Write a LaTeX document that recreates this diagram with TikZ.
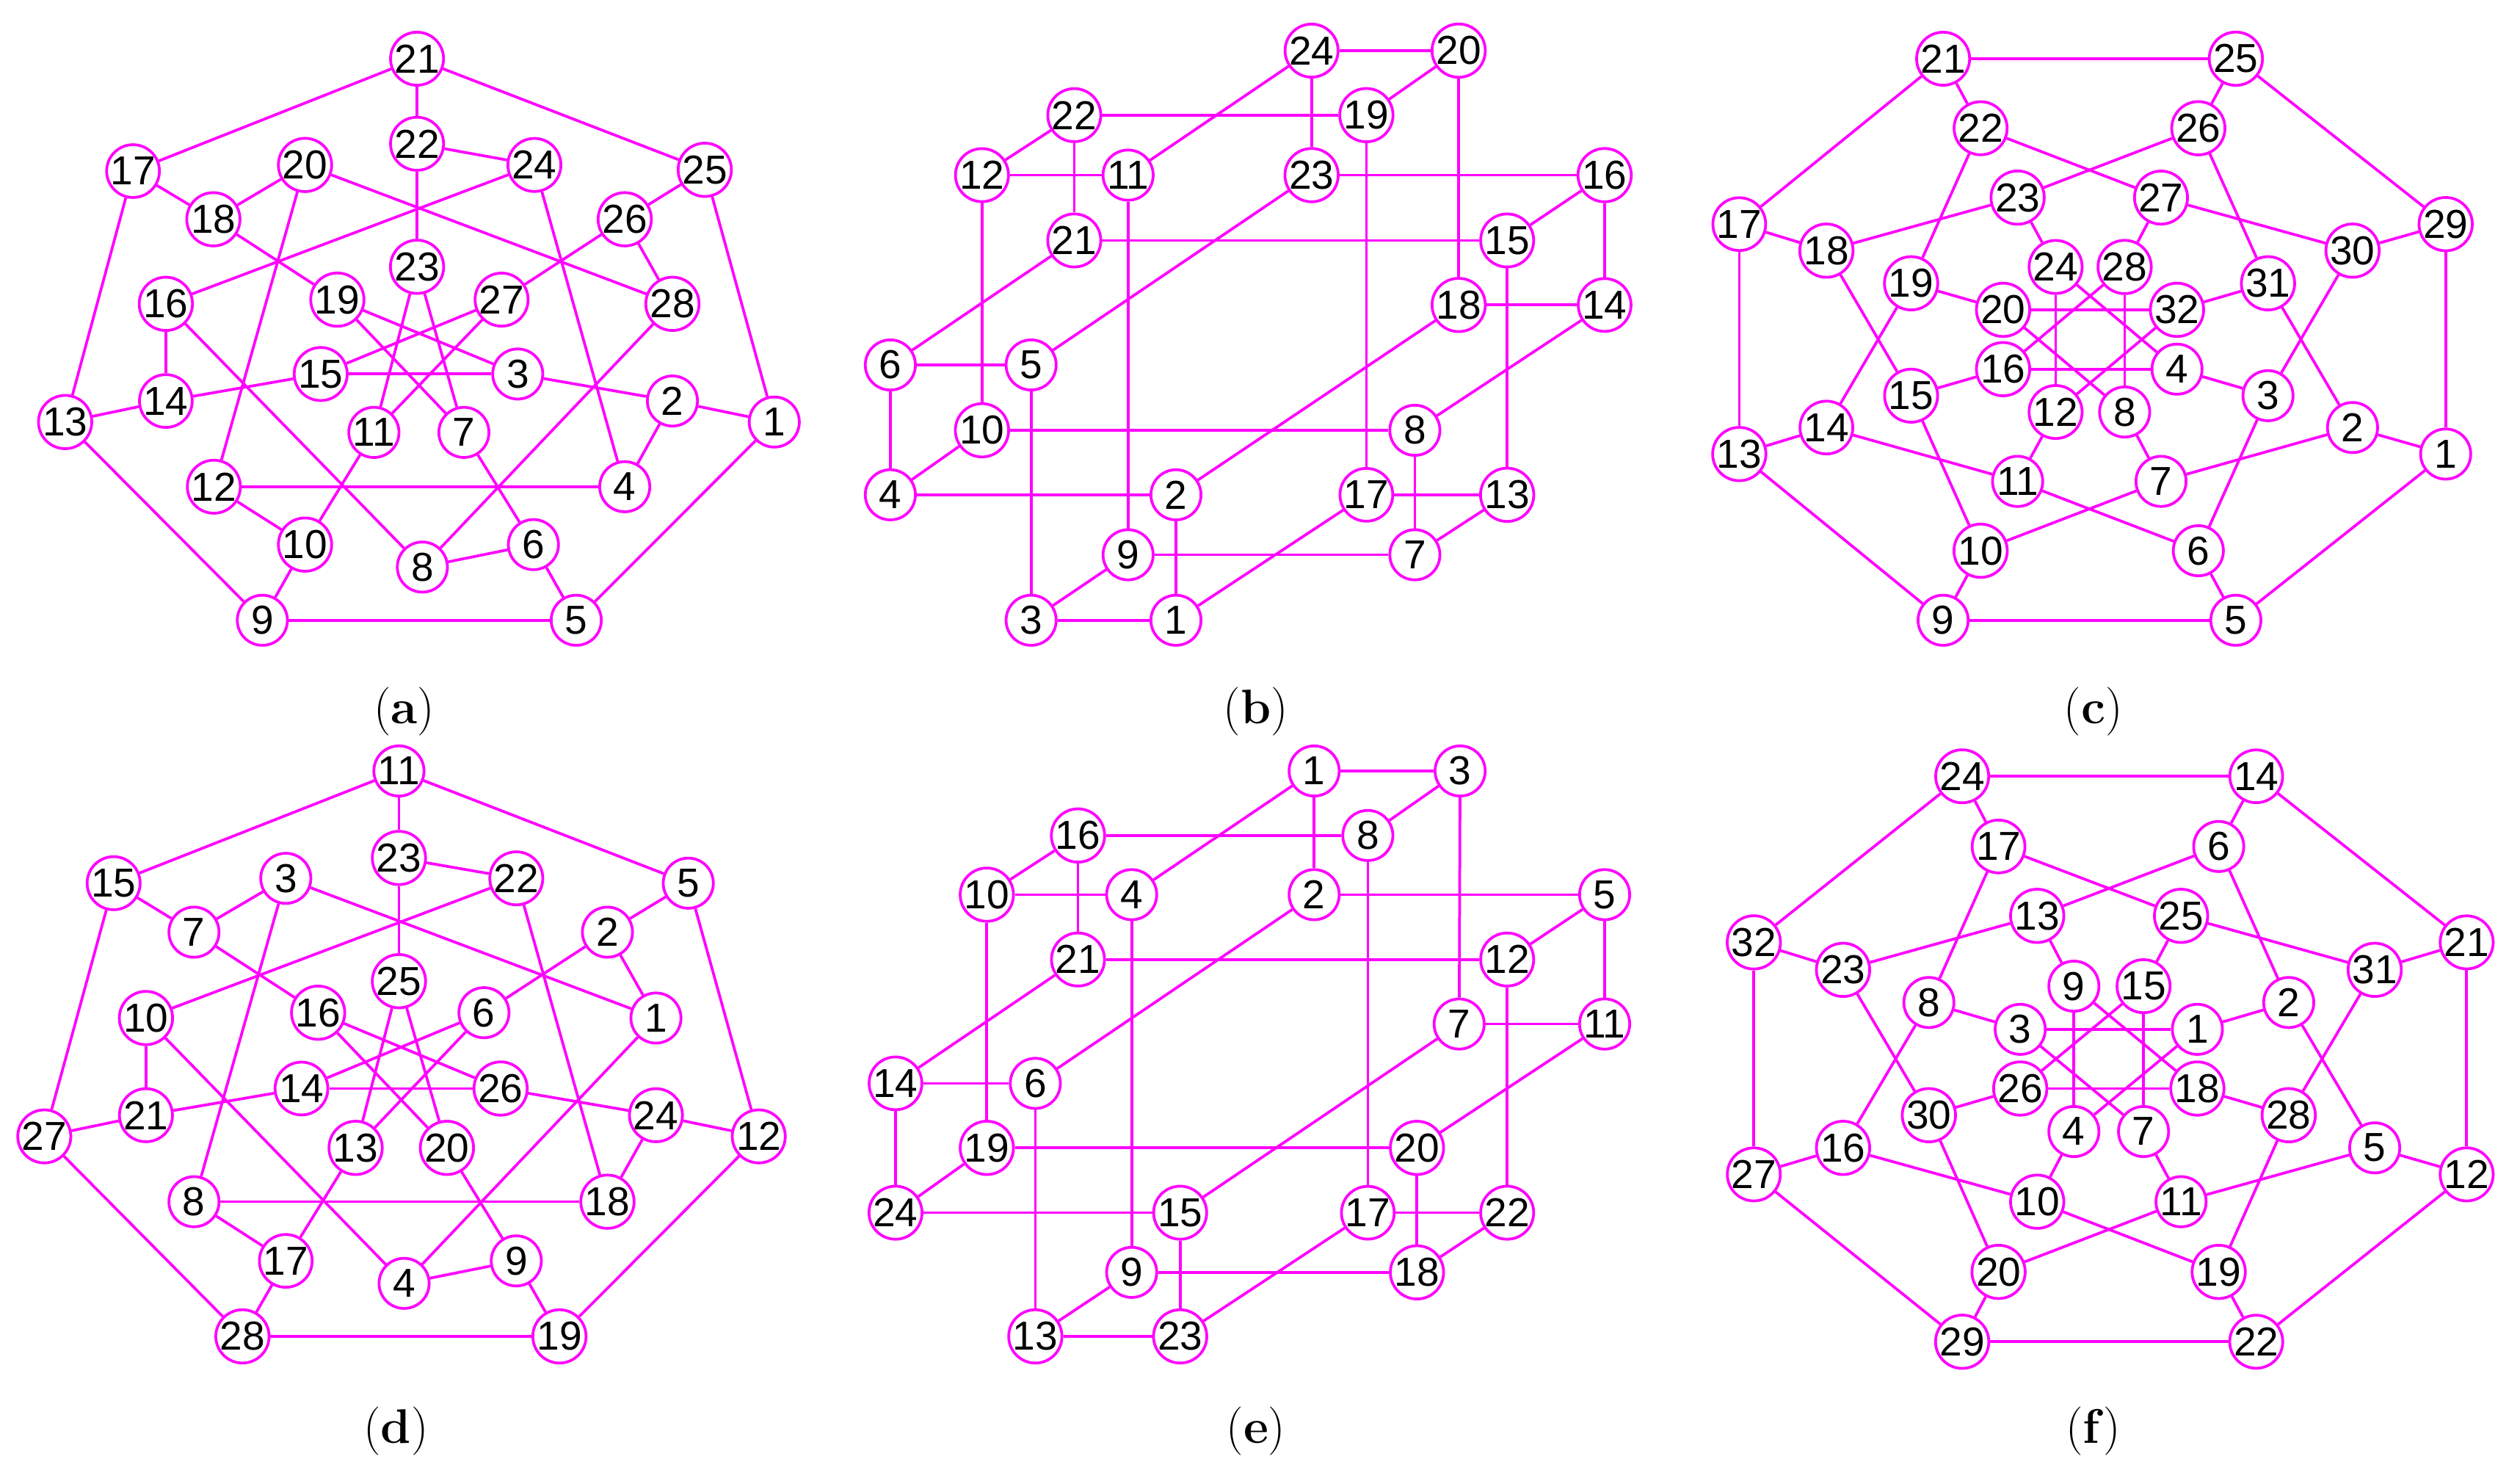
\documentclass[tikz,border=0pt]{standalone}
\usepackage{fontspec}
\setmainfont{Latin Modern Roman}
\newfontfamily\numfont{Liberation Sans}
\definecolor{mag}{RGB}{255,0,255}
\begin{document}
\begin{tikzpicture}[x=0.5pt,y=-0.5pt,
  v/.style={circle,draw=mag,line width=0.85pt,minimum size=15.5pt,inner sep=0pt,fill=white,font=\numfont\fontsize{12.5}{12.5}\selectfont},
  e/.style={draw=mag,line width=0.85pt},
  captxt/.style={font=\fontsize{15}{15}\selectfont}]
\useasboundingbox (0,0) rectangle (1559,902);
% ---------- (a)
\foreach \n/\x/\y in {21/258/36.3,22/258/88.9,24/330.6/102,17/82.3/105.8,20/188.7/102,25/436/105,18/132/135.6,26/386.5/135.6,23/258/165,16/102.6/187.9,19/208.7/185.3,27/310.3/185.3,28/416/187.9,15/198.4/231.3,3/320.3/231.3,14/102.6/248,2/416/248,13/40.3/261,1/479/261,11/231.3/267.4,7/287/267.4,12/132.3/301,4/386.5/301,10/188.7/336.8,6/330/336.8,8/261.3/350.7,9/162.3/383.6,5/356.5/383.6}
  \node[v] (a\n) at (\x,\y) {\n};
\foreach \u/\w in {21/22,21/17,21/25,22/24,22/23,17/18,17/13,20/18,20/12,20/28,24/16,24/4,25/26,25/1,26/27,26/28,18/19,23/11,23/7,16/14,16/8,19/3,19/7,27/15,27/11,28/8,15/14,15/3,3/2,14/13,2/1,2/4,13/9,1/5,11/10,7/6,12/4,12/10,10/9,6/8,6/5,9/5}
  \draw[e] (a\u) -- (a\w);
\node[captxt] (capa) at (250,440) {(\textbf{a})};
% ---------- (b)
\foreach \n/\x/\y in {24/811.4/31.3,20/902.4/31.3,22/664.6/71.2,19/845.3/71.2,12/607.5/108.3,11/697.9/108.3,23/811.4/108.3,16/992.7/108.3,21/664.6/148.7,15/932.4/148.7,18/902.4/188.6,14/992.7/188.6,6/550.8/225.7,5/637.9/225.7,10/607.5/266.1,8/875.3/266.1,4/550.8/306,2/727.5/306,17/845.3/306,13/932.4/306,9/697.9/343.1,7/875.3/343.1,3/637.9/383.6,1/727.5/383.6}
  \node[v] (b\n) at (\x,\y) {\n};
\foreach \u/\w in {24/20,24/11,24/23,20/19,20/18,22/19,22/12,22/21,19/17,12/11,12/10,11/9,23/16,23/5,16/15,16/14,21/15,21/6,15/13,18/14,18/2,14/8,6/5,6/4,5/3,10/8,10/4,8/7,4/2,2/1,17/13,17/1,13/7,9/7,9/3,3/1}
  \draw[e] (b\u) -- (b\w);
\node[captxt] (capb) at (777,440) {(\textbf{b})};
% ---------- (c)
\foreach \n/\x/\y in {21/1202.1/36.3,25/1383.2/36.3,22/1225.3/79.3,26/1360/79.3,23/1248.2/122.2,27/1336.9/122.2,17/1076/138.6,29/1513/138.6,18/1129.9/155,30/1455.4/155,24/1271.7/165.1,28/1314.4/165.1,19/1182.3/175.2,31/1403.1/175.2,20/1239.2/191.6,32/1346.8/191.6,16/1239.2/228.3,4/1346.8/228.3,15/1182.3/244.7,3/1403.1/244.7,12/1271.7/254.8,8/1314.4/254.8,14/1129.9/264.4,2/1455.4/264.4,13/1076/280.8,1/1513/280.8,11/1248.2/297.7,7/1336.9/297.7,10/1225.3/340.6,6/1360/340.6,9/1202.1/383.6,5/1383.2/383.6}
  \node[v] (c\n) at (\x,\y) {\n};
\foreach \u/\w in {21/25,21/22,21/17,25/26,25/29,22/27,22/19,26/23,26/31,23/18,23/24,27/30,27/28,17/18,17/13,29/30,29/1,30/3,19/20,19/14,31/32,31/2,18/15,24/12,24/4,28/8,28/16,20/32,20/8,32/12,16/4,16/15,4/3,15/10,3/6,12/11,8/7,14/13,14/11,2/1,2/7,13/9,1/5,11/6,7/10,10/9,6/5,9/5}
  \draw[e] (c\u) -- (c\w);
\node[captxt] (capc) at (1295,440) {(\textbf{c})};
% ---------- (d)
\foreach \n/\x/\y in {11/246.8/476.8,23/246.8/530.6,15/70.3/546.2,3/176.8/543.2,22/319.4/543.2,5/425.8/546.2,7/120/576.5,2/375.8/576.5,25/246.8/606.8,10/90.3/629.6,16/196.8/626.3,6/299.4/626.3,1/405.8/629.6,14/186.5/673.2,26/309.7/673.2,21/90.3/689.7,24/405.8/689.7,27/27.4/702.8,12/469.4/702.8,13/220/709.9,20/276.5/709.9,8/120/743.2,18/375.8/743.2,17/176.8/779.8,9/319.4/779.8,4/250/793.7,28/150/826.5,19/346.1/826.5}
  \node[v] (d\n) at (\x,\y) {\n};
\foreach \u/\w in {11/23,11/15,11/5,23/22,23/25,15/7,15/27,3/7,3/8,3/1,22/10,22/18,5/2,5/12,7/16,2/6,2/1,25/13,25/20,10/21,10/4,16/26,16/20,6/14,6/13,1/4,14/21,14/26,26/24,21/27,24/12,24/18,27/28,12/19,13/17,20/9,8/18,8/17,17/28,9/4,9/19,28/19}
  \draw[e] (d\u) -- (d\w);
\node[captxt] (capd) at (245,885) {(\textbf{d})};
% ---------- (e)
\foreach \n/\x/\y in {1/813/476.8,3/903.3/476.8,16/666.9/516.7,8/846.2/516.7,10/610.5/553.3,4/700.1/553.3,2/813/553.3,5/992.7/553.3,21/666.9/593.4,12/932.4/593.4,7/902.7/633.3,11/992.7/633.3,14/554/670,6/640.5/670,19/610.5/709.9,20/876.6/709.9,24/554/750,15/730.1/750,17/846.2/750,22/932.4/750,9/700.1/786.9,18/876.6/786.9,13/640.5/826.5,23/730.1/826.5}
  \node[v] (e\n) at (\x,\y) {\n};
\foreach \u/\w in {1/3,1/4,1/2,3/8,3/7,16/8,16/10,16/21,8/17,10/4,10/19,4/9,2/5,2/6,5/12,5/11,21/12,21/14,12/22,7/11,7/15,11/20,14/6,14/24,6/13,19/20,19/24,20/18,24/15,15/23,17/22,17/23,22/18,9/18,9/13,13/23}
  \draw[e] (e\u) -- (e\w);
\node[captxt] (cape) at (777,885) {(\textbf{e})};
% ---------- (f)
\foreach \n/\x/\y in {24/1213.9/480.1,14/1395.8/480.1,17/1236.4/523.5,6/1372.6/523.5,13/1260.3/566.4,25/1349.3/566.4,32/1085/582.8,21/1526/582.8,23/1140.2/599.8,31/1469.1/599.8,9/1283/609.9,15/1326.1/609.9,8/1193.3/620,2/1415.9/620,3/1249.8/636.6,1/1359.4/636.6,26/1249.8/673.2,18/1359.4/673.2,30/1193.3/689.7,28/1415.9/689.7,4/1283/699.8,7/1326.1/699.8,16/1140.2/709.9,5/1469.1/709.9,27/1085/726.3,12/1526/726.3,10/1260.3/743.2,11/1349.3/743.2,20/1236.4/786.6,19/1372.6/786.6,29/1213.9/829.8,22/1395.8/829.8}
  \node[v] (f\n) at (\x,\y) {\n};
\foreach \u/\w in {24/14,24/17,24/32,14/6,14/21,17/25,17/8,6/13,6/2,13/23,13/9,25/31,25/15,32/23,32/27,21/31,21/12,23/30,31/28,9/4,9/18,15/26,15/7,8/3,8/16,2/1,2/5,3/1,3/7,1/4,26/18,26/30,18/28,30/20,28/19,4/10,7/11,16/27,16/10,5/12,5/11,27/29,12/22,10/19,11/20,20/29,19/22,29/22}
  \draw[e] (f\u) -- (f\w);
\node[captxt] (capf) at (1295,885) {(\textbf{f})};
\end{tikzpicture}
\end{document}
